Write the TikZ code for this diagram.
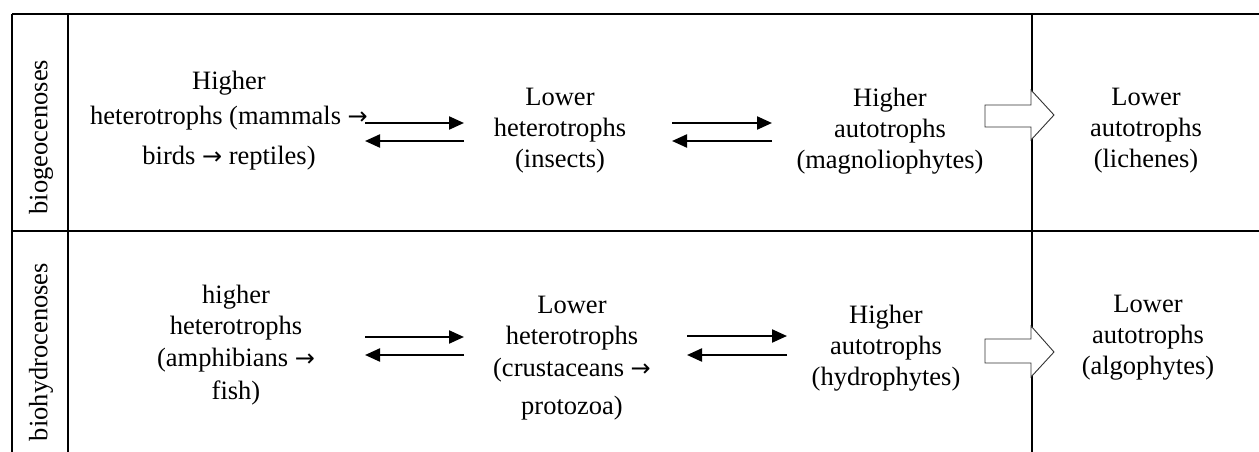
\documentclass[tikz,border=0pt]{standalone}
\usepackage{fontspec}
\setmainfont{Liberation Serif}
\newfontfamily\arrowfont{DejaVu Sans}
\newcommand{\rarr}{{\arrowfont\fontsize{24}{24}\selectfont →}}
\usetikzlibrary{arrows.meta}
\begin{document}
\begin{tikzpicture}[x=1pt,y=-1pt,
  grid/.style={line width=2pt,black},
  txt/.style={align=center,inner sep=0pt,font=\fontsize{26.5}{31}\selectfont},
  side/.style={rotate=90,inner sep=0pt,font=\fontsize{26.5}{31}\selectfont},
  dbl/.style={line width=2.2pt,-{Triangle[length=15pt,width=13pt]}},
  hollow/.style={draw=black!80,line width=0.9pt,fill=white}]
\useasboundingbox (0,0) rectangle (1259,452);
% table lines
\draw[grid] (12,14) -- (1259,14);
\draw[grid] (12,14) -- (12,452);
\draw[grid] (68,14) -- (68,452);
\draw[grid] (1032,14) -- (1032,452);
\draw[grid] (12,231) -- (1259,231);
% side labels
\node[side] (bgc) at (41,137) {biogeocenoses};
\node[side] (bhc) at (41,352) {biohydrocenoses};
% row 1
\node[txt] (h1) at (229,121) {Higher\\[4pt]heterotrophs (mammals \rarr\\[9pt]birds \rarr{} reptiles)};
\node[txt] (l1) at (560,131) {Lower\\heterotrophs\\(insects)};
\node[txt] (a1) at (890,131) {Higher\\autotrophs\\(magnoliophytes)};
\node[txt] (b1) at (1146,131) {Lower\\autotrophs\\(lichenes)};
% row 2
\node[txt] (h2) at (236,345) {higher\\heterotrophs\\[1pt](amphibians \rarr\\[2pt]fish)};
\node[txt] (l2) at (572,358) {Lower\\heterotrophs\\[1pt](crustaceans \rarr\\[7pt]protozoa)};
\node[txt] (a2) at (886,348) {Higher\\autotrophs\\(hydrophytes)};
\node[txt] (b2) at (1148,338) {Lower\\autotrophs\\(algophytes)};
% arrow end points
\coordinate (p1a) at (365,123); \coordinate (p1b) at (464,123);
\coordinate (q1a) at (365,141); \coordinate (q1b) at (464,141);
\coordinate (p2a) at (672,123); \coordinate (p2b) at (772,123);
\coordinate (q2a) at (672,141); \coordinate (q2b) at (772,141);
\coordinate (p3a) at (365,337); \coordinate (p3b) at (464,337);
\coordinate (q3a) at (365,355); \coordinate (q3b) at (464,355);
\coordinate (p4a) at (687,336); \coordinate (p4b) at (787,336);
\coordinate (q4a) at (687,355); \coordinate (q4b) at (787,355);
\draw[dbl] (p1a) -- (p1b);
\draw[dbl] (q1b) -- (q1a);
\draw[dbl] (p2a) -- (p2b);
\draw[dbl] (q2b) -- (q2a);
\draw[dbl] (p3a) -- (p3b);
\draw[dbl] (q3b) -- (q3a);
\draw[dbl] (p4a) -- (p4b);
\draw[dbl] (q4b) -- (q4a);
% hollow arrows
\draw[hollow] (985,105) -- (1031,105) -- (1031,90) -- (1054,115) -- (1031,140) -- (1031,127) -- (985,127) -- cycle;
\draw[hollow] (985,339) -- (1031,339) -- (1031,326) -- (1054,352) -- (1031,377) -- (1031,363) -- (985,363) -- cycle;
\end{tikzpicture}
\end{document}
